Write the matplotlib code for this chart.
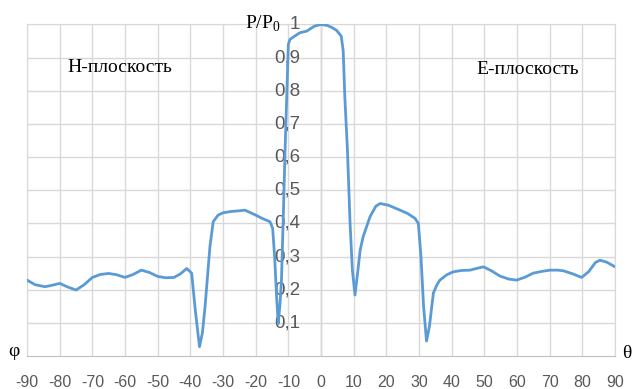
import numpy as np
import matplotlib
matplotlib.use('Agg')
import matplotlib.pyplot as plt

plt.rcParams['mathtext.fontset'] = 'custom'
plt.rcParams['mathtext.rm'] = 'Liberation Serif'

# Radiation pattern, normalized power P/P0 vs angle (deg)
theta = [-90, -87.5, -84.5, -82.5, -80, -77.5, -75, -72.5, -70, -67.5,
         -65, -62.5, -60, -57.5, -55, -52.5, -50, -47.5, -45, -43,
         -41.1, -39.6, -38.5, -37.2, -36.3, -35.5, -34, -33, -31.5, -30,
         -27.5, -25, -23.3, -20, -18, -15.6, -14.8, -14.2, -13.6, -13.1,
         -12.6, -12.1, -11.6, -11, -10.5, -10, -9.5, -8.5, -6.5, -4.4,
         -2, 0, 2, 3.5, 4.8, 6.2, 6.8, 7.3, 8.1, 8.9,
         9.6, 10.4, 11.2, 12, 12.9, 15, 16.8, 18.1, 20.6, 22.5,
         24.2, 26.5, 28.8, 29.8, 30.6, 31.4, 32.3, 33.2, 34.4, 35.5,
         36.4, 38.5, 40.5, 43, 45.6, 48, 49.7, 52, 54.8, 57.5,
         59.9, 62.5, 65, 67.5, 70.1, 72.5, 74.2, 77, 79.8, 82,
         84, 85.4, 87.5, 90]
power = [0.229, 0.215, 0.209, 0.213, 0.219, 0.208, 0.199, 0.215, 0.237, 0.246,
         0.249, 0.245, 0.237, 0.246, 0.259, 0.252, 0.240, 0.236, 0.237, 0.248,
         0.264, 0.250, 0.140, 0.028, 0.070, 0.148, 0.330, 0.405, 0.425, 0.432,
         0.436, 0.438, 0.440, 0.425, 0.415, 0.405, 0.385, 0.300, 0.180, 0.098,
         0.150, 0.230, 0.400, 0.620, 0.780, 0.940, 0.955, 0.962, 0.975, 0.980,
         0.995, 1.000, 0.997, 0.990, 0.982, 0.965, 0.920, 0.780, 0.620, 0.400,
         0.260, 0.184, 0.250, 0.320, 0.360, 0.420, 0.452, 0.460, 0.455, 0.447,
         0.440, 0.430, 0.415, 0.400, 0.300, 0.150, 0.045, 0.090, 0.190, 0.215,
         0.229, 0.245, 0.254, 0.258, 0.259, 0.265, 0.269, 0.258, 0.241, 0.232,
         0.229, 0.238, 0.250, 0.255, 0.259, 0.259, 0.257, 0.248, 0.237, 0.255,
         0.282, 0.289, 0.283, 0.269]

xticks = list(range(-90, 91, 10))
yticks = [0.1, 0.2, 0.3, 0.4, 0.5, 0.6, 0.7, 0.8, 0.9, 1.0]
ylabels = ['0,1', '0,2', '0,3', '0,4', '0,5', '0,6', '0,7', '0,8', '0,9', '1']

fig = plt.figure(figsize=(6.32, 3.89), dpi=100)
ax = fig.add_axes([27/632, 33/389, 588/632, 331.5/389])

grid_c = '#d9d9d9'
ax.set_xlim(-90, 90)
ax.set_ylim(0, 1)
ax.set_xticks(xticks)
ax.set_xticklabels([str(t) for t in xticks], fontsize=11.5, color='#595959',
                   family='Liberation Sans')
ax.set_yticks(yticks)
ax.set_yticklabels([])
ax.tick_params(length=0, pad=14)
ax.grid(True, color=grid_c, linewidth=1.0)
for s in ['left', 'right', 'top']:
    ax.spines[s].set_color(grid_c)
ax.spines['bottom'].set_color('#bfbfbf')
ax.axvline(0, color='#bfbfbf', linewidth=1.0, zorder=1)

for v, lab in zip(yticks, ylabels):
    ax.text(-6.3, v, lab, ha='right', va='center', fontsize=13.5,
            color='#595959', family='Liberation Sans')

ax.plot(theta, power, color='#5b9bd5', linewidth=2.0, zorder=3,
        solid_joinstyle='round', solid_capstyle='round')

serif = 'Liberation Serif'
ax.text(-77.5, 0.87, 'H-плоскость', fontsize=14, family=serif, va='center')
ax.text(47.5, 0.865, 'E-плоскость', fontsize=14, family=serif, va='center')
fig.text(245/632, 1 - 24/389, r'P/P$_0$', fontsize=14, family=serif, va='center')
fig.text(14/632, 1 - 352/389, 'φ', fontsize=14, family=serif, ha='center', va='center')
fig.text(627/632, 1 - 353/389, 'θ', fontsize=14, family=serif, ha='center', va='center')

fig.savefig('out.png', dpi=100)
